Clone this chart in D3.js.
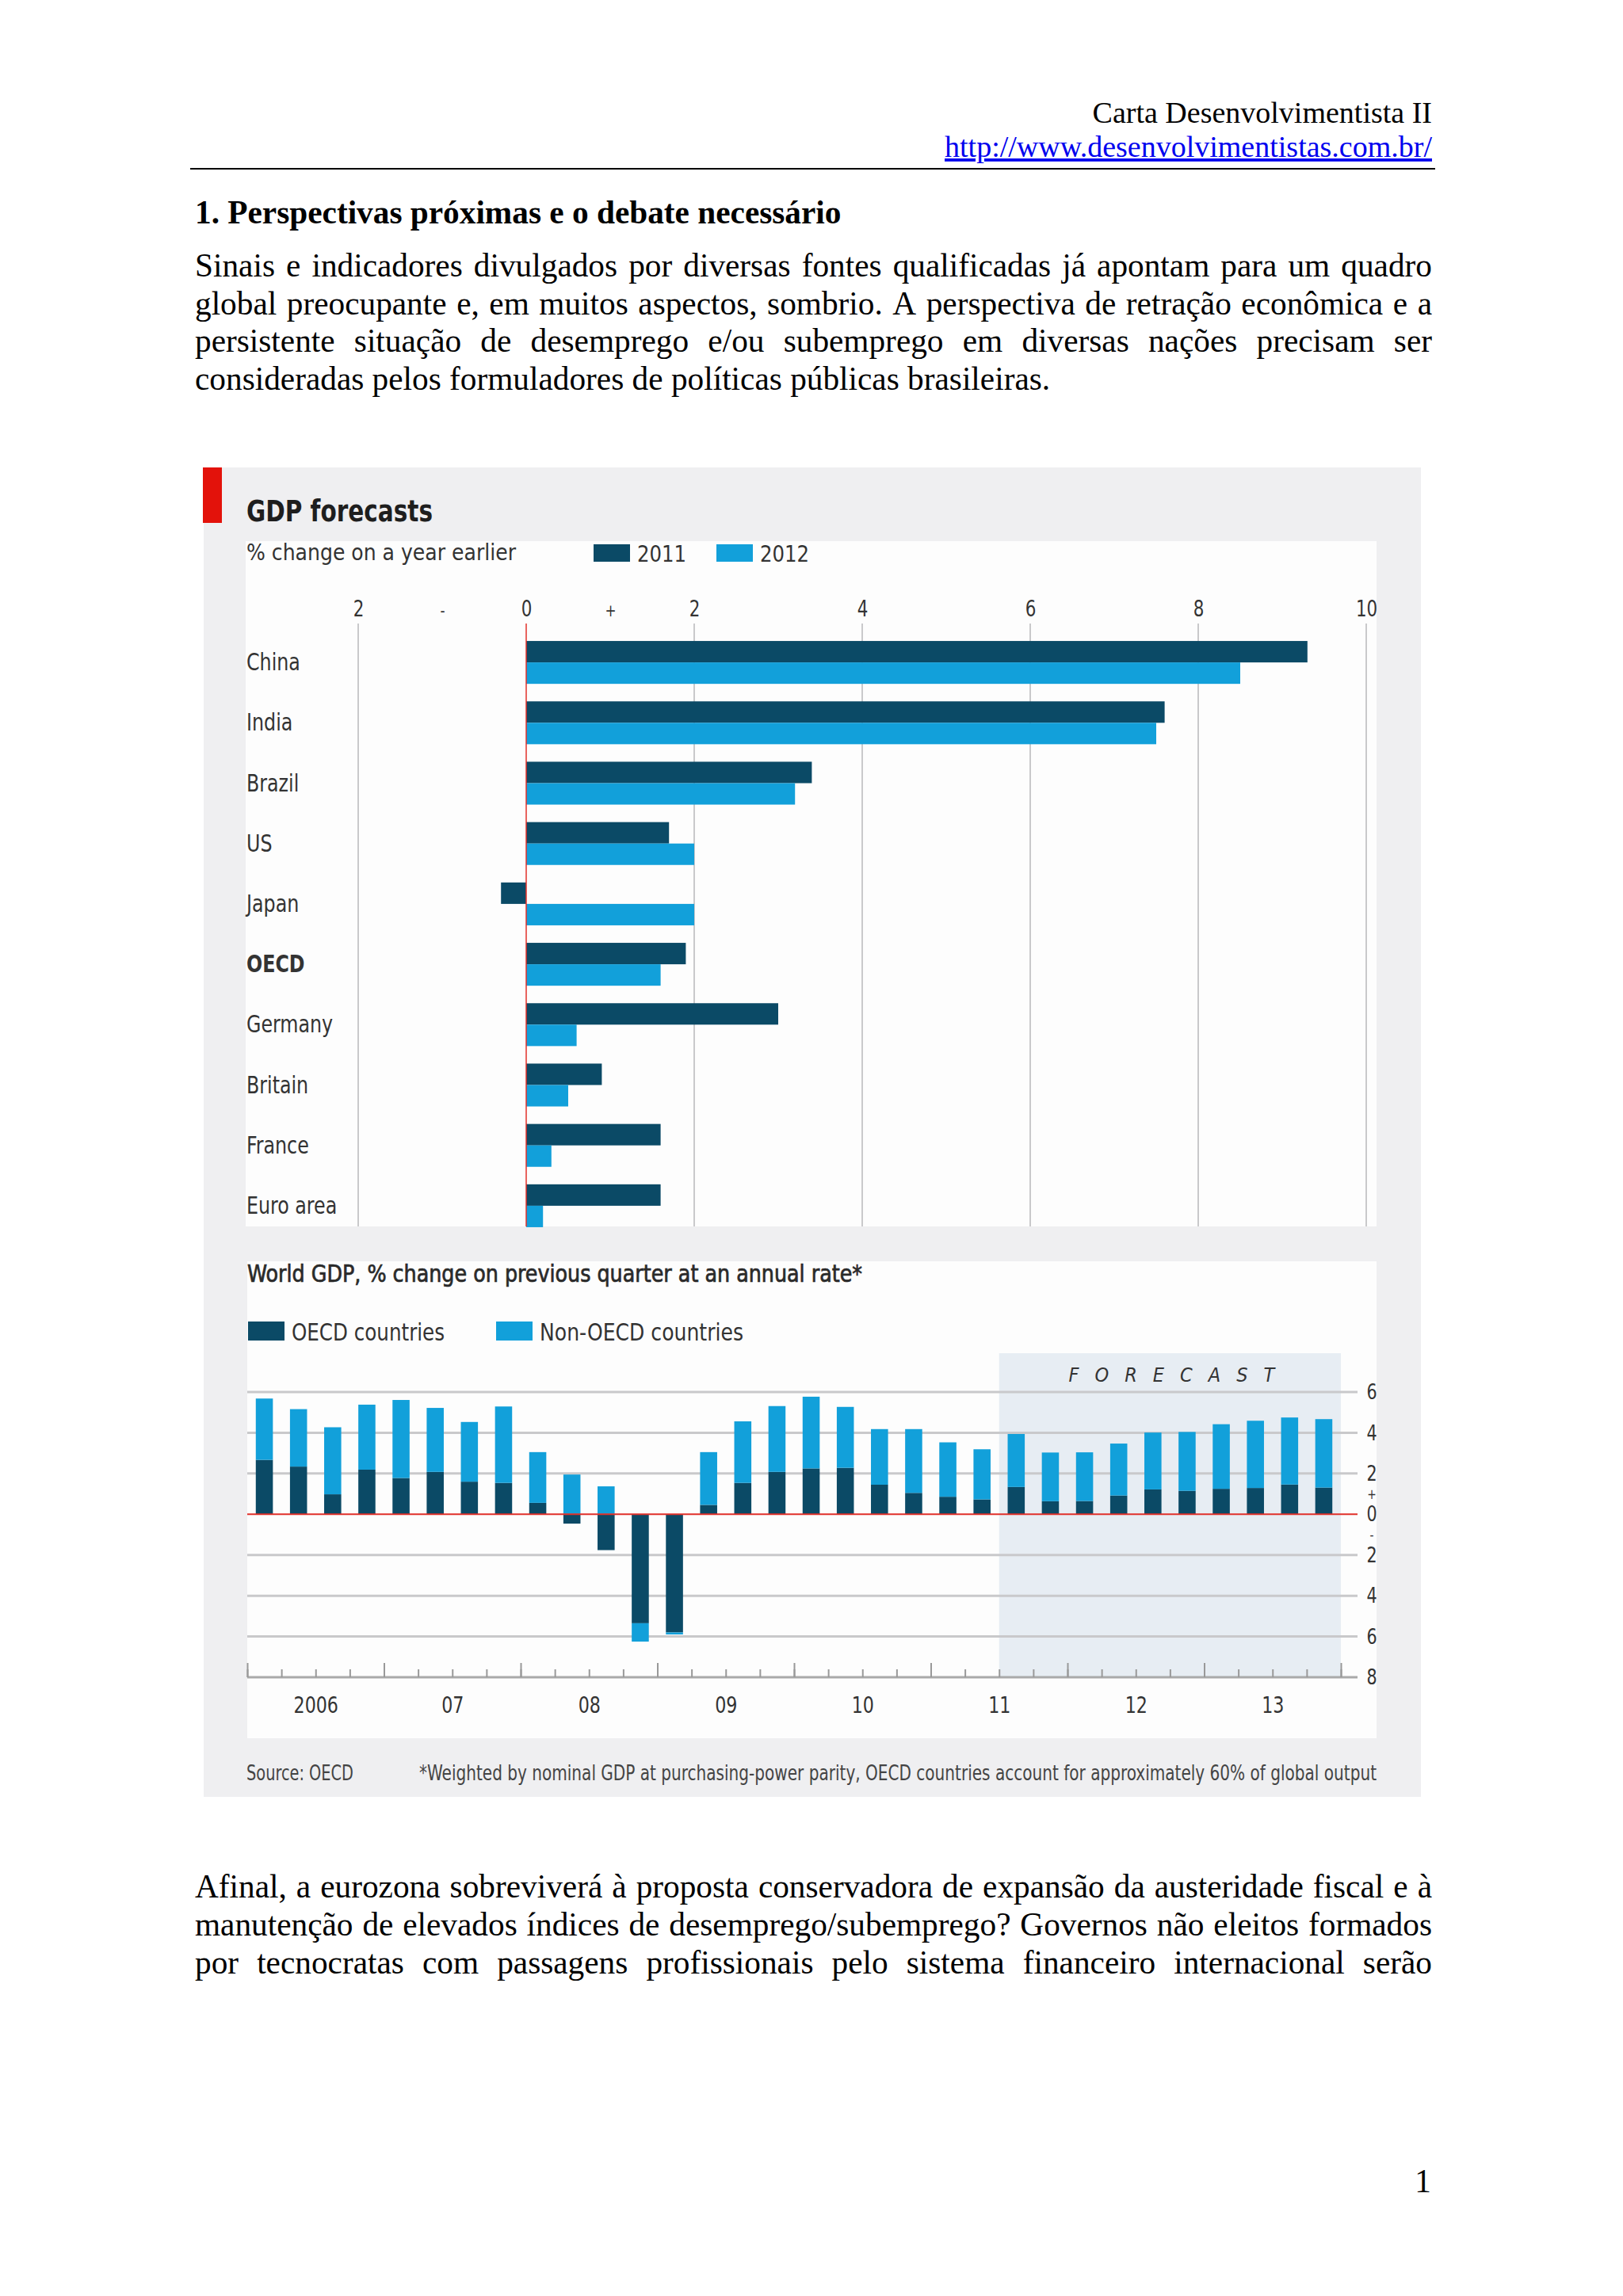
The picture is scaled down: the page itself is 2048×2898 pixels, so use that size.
<!DOCTYPE html>
<html>
<head>
<meta charset="utf-8">
<script src="https://cdn.jsdelivr.net/npm/d3@7/dist/d3.min.js"></script>
<style>
  body { margin: 0; background: #fff; }
  svg { display: block; }
</style>
</head>
<body>
<div id="page"></div>
<script>
// ---- data: GDP forecasts (top panel)
var countries = ["China", "India", "Brazil", "US", "Japan", "OECD", "Germany", "Britain", "France", "Euro area"];
var gdp2011 = [9.3, 7.6, 3.4, 1.7, -0.3, 1.9, 3.0, 0.9, 1.6, 1.6];
var gdp2012 = [8.5, 7.5, 3.2, 2.0, 2.0, 1.6, 0.6, 0.5, 0.3, 0.2];
var seriesYears = ["2011", "2012"];
var topTicks = [-2, -1, 0, 1, 2, 4, 6, 8, 10];
var topTickLabels = ["2", "-", "0", "+", "2", "4", "6", "8", "10"];
var topGrid = [-2, 2, 4, 6, 8, 10];

// ---- data: world GDP by quarter (bottom panel)
var quarters = ["2006Q1","2006Q2","2006Q3","2006Q4","2007Q1","2007Q2","2007Q3","2007Q4",
                "2008Q1","2008Q2","2008Q3","2008Q4","2009Q1","2009Q2","2009Q3","2009Q4",
                "2010Q1","2010Q2","2010Q3","2010Q4","2011Q1","2011Q2","2011Q3","2011Q4",
                "2012Q1","2012Q2","2012Q3","2012Q4","2013Q1","2013Q2","2013Q3","2013Q4"];
var oecdContrib = [2.67, 2.34, 0.98, 2.19, 1.78, 2.08, 1.60, 1.54,
                   0.56, -0.46, -1.76, -5.35, -5.80, 0.46, 1.54, 2.08,
                   2.25, 2.28, 1.45, 1.05, 0.86, 0.73, 1.34, 0.64,
                   0.65, 0.92, 1.22, 1.15, 1.25, 1.29, 1.46, 1.31];
var nonOecdContrib = [3.01, 2.82, 3.29, 3.19, 3.83, 3.14, 2.93, 3.75,
                      2.49, 1.95, 1.37, -0.90, -0.10, 2.59, 3.02, 3.23,
                      3.52, 2.99, 2.73, 3.13, 2.67, 2.46, 2.60, 2.39,
                      2.39, 2.55, 2.79, 2.89, 3.17, 3.30, 3.29, 3.36];
var forecastFrom = "2011Q3";
var yearLabels = ["2006", "07", "08", "09", "10", "11", "12", "13"];
var rightTicks = [6, 4, 2, 1, 0, -1, -2, -4, -6, -8];
var rightTickLabels = ["6", "4", "2", "+", "0", "-", "2", "4", "6", "8"];
var bottomGrid = [6, 4, 2, -2, -4, -6];

// ---- page text
var headerLines = ["Carta Desenvolvimentista II", "http://www.desenvolvimentistas.com.br/"];
var heading = "1. Perspectivas próximas e o debate necessário";
var para1 = ["Sinais e indicadores divulgados por diversas fontes qualificadas já apontam para um quadro",
             "global preocupante e, em muitos aspectos, sombrio. A perspectiva de retração econômica e a",
             "persistente situação de desemprego e/ou subemprego em diversas nações precisam ser",
             "consideradas pelos formuladores de políticas públicas brasileiras."];
var para2 = ["Afinal, a eurozona sobreviverá à proposta conservadora de expansão da austeridade fiscal e à",
             "manutenção de elevados índices de desemprego/subemprego? Governos não eleitos formados",
             "por tecnocratas com passagens profissionais pelo sistema financeiro internacional serão"];

var W = 2048, H = 2898;
var serif = "'Liberation Serif','Times New Roman',serif";
var sans = "'DejaVu Sans Condensed','DejaVu Sans',sans-serif";
var dark = "#0b4a66", light = "#12a0da", red = "#e0302a", grid = "#c9c9cb", ink = "#333";

var svg = d3.select("#page").append("svg").attr("width", W).attr("height", H);
svg.append("rect").attr("width", W).attr("height", H).attr("fill", "#fff");

// squeeze chart labels so they look like the narrow original face
function condense(sel, f) {
    sel.each(function() {
        var w = this.getComputedTextLength();
        d3.select(this).attr("textLength", w * f).attr("lengthAdjust", "spacingAndGlyphs");
    });
    return sel;
}
function fit(sel, width) {
    return sel.attr("textLength", width).attr("lengthAdjust", "spacingAndGlyphs");
}
function isSign(t) { return t === "+" || t === "-"; }

// ---------- page text ----------
var left = 246, right = 1807;

function textLine(g, str, y, justify) {
    if (!justify) {
        g.append("text").attr("x", left).attr("y", y).text(str);
        return;
    }
    var words = str.split(" ");
    var nodes = words.map(function(w) { return g.append("text").attr("y", y).text(w); });
    var widths = nodes.map(function(n) { return n.node().getComputedTextLength(); });
    var gap = (right - left - d3.sum(widths)) / (words.length - 1);
    var x = left;
    nodes.forEach(function(n, i) { n.attr("x", x); x += widths[i] + gap; });
}

var txt = svg.append("g").attr("font-family", serif).attr("fill", "#000");

txt.append("text").attr("x", right).attr("y", 155).attr("text-anchor", "end")
    .attr("font-size", 38).text(headerLines[0]);
txt.append("text").attr("x", right).attr("y", 198).attr("text-anchor", "end")
    .attr("font-size", 38).attr("fill", "#0000ee").attr("text-decoration", "underline")
    .text(headerLines[1]);
txt.append("line").attr("x1", 240).attr("x2", 1811).attr("y1", 213).attr("y2", 213)
    .attr("stroke", "#000").attr("stroke-width", 2);

txt.append("text").attr("x", left).attr("y", 282).attr("font-size", 41.3)
    .attr("font-weight", "bold").text(heading);

var p1 = txt.append("g").attr("font-size", 41.3);
para1.forEach(function(l, i) { textLine(p1, l, 349 + i * 47.5, i < para1.length - 1); });

var p2 = txt.append("g").attr("font-size", 41.3);
para2.forEach(function(l, i) { textLine(p2, l, 2395 + i * 48.2, true); });

txt.append("text").attr("x", 1806).attr("y", 2767).attr("text-anchor", "end")
    .attr("font-size", 41.3).text("1");

// ---------- chart frame ----------
var chart = svg.append("g").attr("font-family", sans);
chart.append("rect").attr("x", 257).attr("y", 590).attr("width", 1536).attr("height", 1678)
    .attr("fill", "#efeff1");
chart.append("rect").attr("x", 256).attr("y", 590).attr("width", 24).attr("height", 70)
    .attr("fill", "#e3120b");
chart.append("rect").attr("x", 310).attr("y", 683).attr("width", 1427).attr("height", 865)
    .attr("fill", "#fdfdfd");
chart.append("rect").attr("x", 312).attr("y", 1592).attr("width", 1425).attr("height", 602)
    .attr("fill", "#fdfdfd");

fit(chart.append("text").attr("x", 311).attr("y", 658).attr("font-size", 37)
    .attr("font-weight", "bold").attr("fill", "#1e1e1e").text("GDP forecasts"), 235);
fit(chart.append("text").attr("x", 311).attr("y", 707).attr("font-size", 29)
    .attr("fill", ink).text("% change on a year earlier"), 340);

// legend top
var legTop = chart.append("g");
[[749, dark], [904, light]].forEach(function(d, i) {
    legTop.append("rect").attr("x", d[0]).attr("y", 687).attr("width", 46).attr("height", 22).attr("fill", d[1]);
    fit(legTop.append("text").attr("x", d[0] + 55).attr("y", 709).attr("font-size", 29)
        .attr("fill", ink).text(seriesYears[i]), 62);
});

// ---------- top chart ----------
var x = d3.scaleLinear().domain([-2, 10]).range([452, 1724]);
var y = d3.scaleBand().domain(countries).range([798, 1560]).paddingInner(0.29).paddingOuter(0.145);
var ySub = d3.scaleBand().domain(seriesYears).range([0, y.bandwidth()]);
var gridTop = 787, gridBottom = 1548;

chart.append("g").selectAll("line").data(topGrid).join("line")
    .attr("x1", function(d) { return x(d); }).attr("x2", function(d) { return x(d); })
    .attr("y1", gridTop).attr("y2", gridBottom)
    .attr("stroke", grid).attr("stroke-width", 2);

var topAxis = chart.append("g").attr("transform", "translate(0," + (gridTop - 1) + ")")
    .call(d3.axisTop(x).tickValues(topTicks).tickSize(0).tickPadding(8)
        .tickFormat(function(d, i) { return topTickLabels[i]; }));
topAxis.select(".domain").remove();
topAxis.selectAll("text").attr("fill", ink).attr("font-family", sans)
    .attr("font-size", function() { return isSign(this.textContent) ? 22 : 28; });
condense(topAxis.selectAll("text"), 0.85);

var rows = countries.map(function(c, i) { return { name: c, v: [gdp2011[i], gdp2012[i]] }; });
var groups = chart.append("g").selectAll("g").data(rows).join("g")
    .attr("transform", function(d) { return "translate(0," + y(d.name) + ")"; });
groups.selectAll("rect").data(function(d) { return d.v.map(function(v, k) { return { k: seriesYears[k], v: v }; }); })
    .join("rect")
    .attr("x", function(d) { return x(Math.min(0, d.v)); })
    .attr("width", function(d) { return Math.abs(x(d.v) - x(0)); })
    .attr("y", function(d) { return ySub(d.k); })
    .attr("height", ySub.bandwidth())
    .attr("fill", function(d) { return d.k === "2011" ? dark : light; });

chart.append("line").attr("x1", x(0)).attr("x2", x(0)).attr("y1", gridTop).attr("y2", gridBottom)
    .attr("stroke", red).attr("stroke-width", 1.5);

condense(chart.append("g").selectAll("text").data(countries).join("text")
    .attr("x", 311).attr("y", function(d) { return y(d) + y.bandwidth() / 2 + 10; })
    .attr("font-size", 30).attr("fill", ink)
    .attr("font-weight", function(d) { return d === "OECD" ? "bold" : "normal"; })
    .text(function(d) { return d; }), 0.88);

// ---------- bottom chart ----------
fit(chart.append("text").attr("x", 312).attr("y", 1618).attr("font-size", 30)
    .attr("fill", "#2a2a2a").attr("stroke", "#2a2a2a").attr("stroke-width", 0.7)
    .text("World GDP, % change on previous quarter at an annual rate*"), 776);

var legBot = chart.append("g");
[[313, dark, "OECD countries", 193], [626, light, "Non-OECD countries", 257]].forEach(function(d) {
    legBot.append("rect").attr("x", d[0]).attr("y", 1668).attr("width", 46).attr("height", 24).attr("fill", d[1]);
    fit(legBot.append("text").attr("x", d[0] + 55).attr("y", 1692).attr("font-size", 30)
        .attr("fill", ink).text(d[2]), d[3]);
});

var xq = d3.scaleLinear().domain([0, quarters.length]).range([312, 1692]);
var xb = d3.scaleBand().domain(quarters).range([312, 1692]).paddingInner(0.5).paddingOuter(0.25);
var yb = d3.scaleLinear().domain([-8, 6]).range([2117, 1757]);
var gridRight = 1713;

var fi = quarters.indexOf(forecastFrom);
chart.append("rect").attr("x", xq(fi)).attr("y", yb(6) - 49)
    .attr("width", xq(quarters.length) - xq(fi)).attr("height", yb(-8) - yb(6) + 49)
    .attr("fill", "#e7edf3");
chart.append("text").attr("x", (xq(fi) + xq(quarters.length)) / 2 + 12).attr("y", yb(6) - 13)
    .attr("text-anchor", "middle").attr("font-size", 25).attr("font-style", "italic")
    .attr("letter-spacing", 20).attr("fill", ink).text("FORECAST");

chart.append("g").selectAll("line").data(bottomGrid).join("line")
    .attr("x1", 312).attr("x2", gridRight)
    .attr("y1", function(d) { return yb(d); }).attr("y2", function(d) { return yb(d); })
    .attr("stroke", grid).attr("stroke-width", 3);

var table = quarters.map(function(q, i) { return { q: q, oecd: oecdContrib[i], non: nonOecdContrib[i] }; });
var stacked = d3.stack().keys(["oecd", "non"]).offset(d3.stackOffsetDiverging)(table);
chart.append("g").selectAll("g").data(stacked).join("g")
    .attr("fill", function(d) { return d.key === "oecd" ? dark : light; })
    .selectAll("rect").data(function(d) { return d; }).join("rect")
    .attr("x", function(d) { return xb(d.data.q); })
    .attr("width", xb.bandwidth())
    .attr("y", function(d) { return yb(d[1]); })
    .attr("height", function(d) { return yb(d[0]) - yb(d[1]); });

chart.append("line").attr("x1", 312).attr("x2", gridRight).attr("y1", yb(0)).attr("y2", yb(0))
    .attr("stroke", red).attr("stroke-width", 2);

var rAxis = chart.append("g").attr("transform", "translate(1731,0)")
    .call(d3.axisRight(yb).tickValues(rightTicks).tickSize(0).tickPadding(0)
        .tickFormat(function(d, i) { return rightTickLabels[i]; }));
rAxis.select(".domain").remove();
rAxis.selectAll("text").attr("text-anchor", "middle").attr("fill", ink).attr("font-family", sans)
    .attr("font-size", function() { return isSign(this.textContent) ? 18 : 27; });
condense(rAxis.selectAll("text"), 0.85);

// time axis
var axisY = yb(-8);
chart.append("line").attr("x1", 312).attr("x2", gridRight).attr("y1", axisY).attr("y2", axisY)
    .attr("stroke", "#aaa").attr("stroke-width", 3);
var minor = chart.append("g").attr("transform", "translate(0," + axisY + ")")
    .call(d3.axisBottom(xq).tickValues(d3.range(0, quarters.length + 1)).tickSize(-10).tickFormat(""));
var major = chart.append("g").attr("transform", "translate(0," + axisY + ")")
    .call(d3.axisBottom(xq).tickValues(d3.range(0, quarters.length + 1, 4)).tickSize(-18).tickFormat(""));
[minor, major].forEach(function(a) {
    a.select(".domain").remove();
    a.selectAll("line").attr("stroke", "#999").attr("stroke-width", 2);
});
var yrAxis = chart.append("g").attr("transform", "translate(0," + axisY + ")")
    .call(d3.axisBottom(xq).tickValues(yearLabels.map(function(d, i) { return i * 4 + 2; }))
        .tickSize(0).tickPadding(24).tickFormat(function(d, i) { return yearLabels[i]; }));
yrAxis.select(".domain").remove();
condense(yrAxis.selectAll("text").attr("font-size", 29).attr("fill", ink).attr("font-family", sans), 0.85);

fit(chart.append("text").attr("x", 311).attr("y", 2247).attr("font-size", 26).attr("fill", "#444")
    .text("Source: OECD"), 135);
fit(chart.append("text").attr("x", 529).attr("y", 2247)
    .attr("font-size", 26).attr("fill", "#444")
    .text("*Weighted by nominal GDP at purchasing-power parity, OECD countries account for approximately 60% of global output"), 1208);
</script>
</body>
</html>
